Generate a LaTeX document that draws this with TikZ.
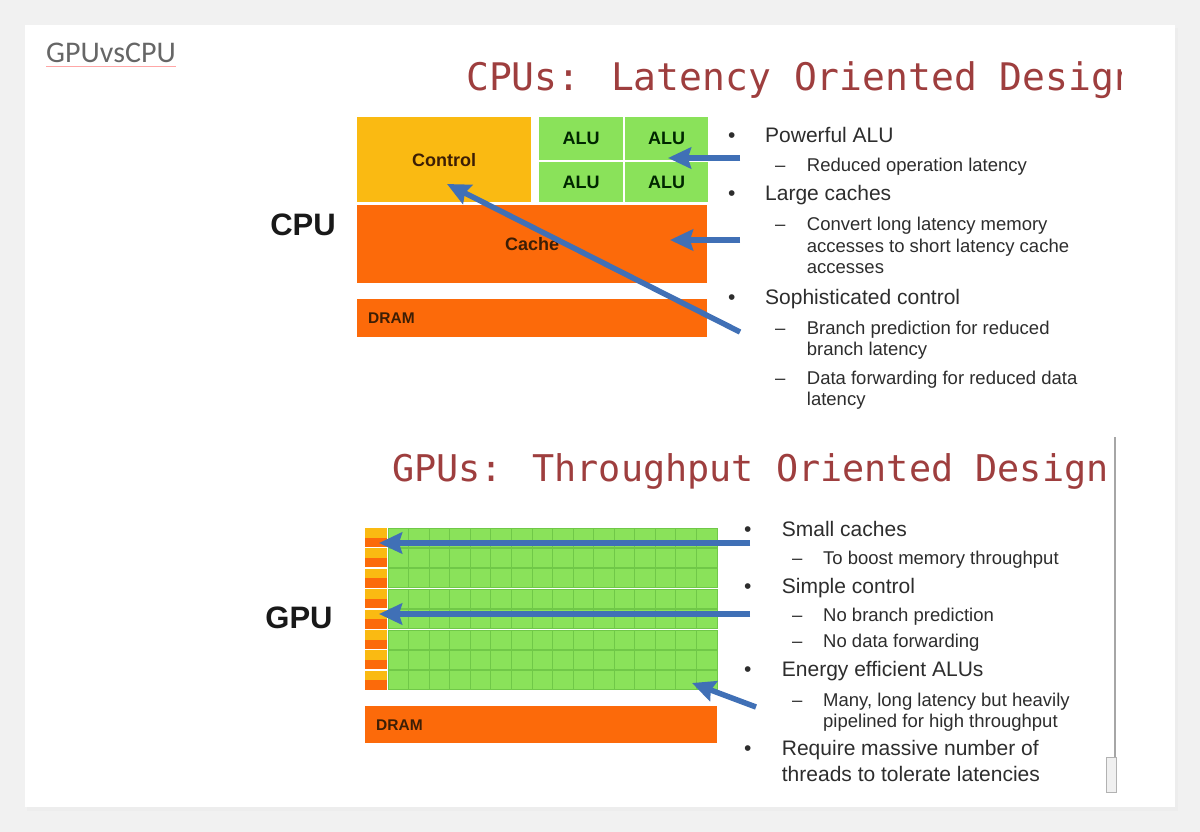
\documentclass[tikz,border=0pt]{standalone}
\usepackage{fontspec}
\setmainfont{Liberation Sans}
\newfontfamily\slidemono{DejaVu Sans Mono}
\newfontfamily\tabfont{Carlito}
\usetikzlibrary{arrows.meta, positioning, calc}

\definecolor{ctrlyellow}{RGB}{250,186,18}
\definecolor{cacheorange}{RGB}{252,106,10}
\definecolor{alugreen}{RGB}{138,226,90}
\definecolor{gridline}{RGB}{112,200,72}
\definecolor{arrowblue}{RGB}{64,112,182}
\definecolor{titlered}{RGB}{158,62,62}
\definecolor{bodytext}{RGB}{45,45,45}
\definecolor{blocktext}{RGB}{60,30,5}
\definecolor{pagegray}{RGB}{241,241,241}

\begin{document}
\begin{tikzpicture}[
  x=1pt, y=-1pt,
  >={Stealth[length=23pt, width=21pt, inset=3pt]},
  block/.style={
    draw=none, inner sep=0pt, anchor=north west,
    font=\fontsize{18}{20}\selectfont\bfseries, text=blocktext
  },
  ctrlbox/.style={block, fill=ctrlyellow},
  alubox/.style={block, fill=alugreen, text=black!85!green},
  cachebox/.style={block, fill=cacheorange},
  dramlabel/.style={inner sep=0pt, anchor=west,
    font=\fontsize{15.5}{17}\selectfont\bfseries, text=blocktext},
  chiplabel/.style={inner sep=0pt,
    font=\fontsize{31}{34}\selectfont\bfseries, text=black!90},
  slidetitle/.style={inner sep=0pt, anchor=base west, text=titlered},
  item/.style={inner sep=0pt, anchor=base west, align=left,
    font=\fontsize{21}{26.7}\selectfont, text=bodytext},
  subitem/.style={inner sep=0pt, anchor=base west, align=left,
    font=\fontsize{18.5}{21.5}\selectfont, text=bodytext},
  pointer/.style={->, draw=arrowblue, line width=5.5pt},
]

%%% Page and card
\useasboundingbox (0,0) rectangle (1200,832);
\fill[pagegray] (0,0) rectangle (1200,832);
\fill[black!7] (27,28) rectangle (1178,811);
\fill[white] (25,25) rectangle (1175,807);

%%% Tab name
\node[inner sep=0pt, anchor=base west, font=\tabfont\fontsize{30}{32}\selectfont,
  text=black!60] (tab) at (46,63) {GPUvsCPU};
\draw[red!35, line width=1.2pt] ([yshift=-3pt]tab.south west) -- ([yshift=-3pt]tab.south east);

%%% Titles
\begin{scope}
  \clip (0,0) rectangle (1121,832);
  \node[slidetitle, font=\slidemono\fontsize{38}{40}\selectfont] (cputitle) at (466,91)
    {CPUs: Latency Oriented Design};
\end{scope}
\node[slidetitle, font=\slidemono\fontsize{36.8}{40}\selectfont] (gputitle) at (392,481)
  {GPUs: Throughput Oriented Design};

%%% CPU block
\node[chiplabel] (cpu) at (303,225) {CPU};
\node[ctrlbox, minimum width=174, minimum height=85] (control) at (357,117) {Control};
\node[alubox, minimum width=84, minimum height=43] (aluA) at (539,117) {ALU};
\node[alubox, minimum width=83, minimum height=43] (aluB) at (625,117) {ALU};
\node[alubox, minimum width=84, minimum height=40] (aluC) at (539,162) {ALU};
\node[alubox, minimum width=83, minimum height=40] (aluD) at (625,162) {ALU};
\node[cachebox, minimum width=350, minimum height=78] (cache) at (357,205) {Cache};
\node[cachebox, minimum width=350, minimum height=38] (cdram) at (357,299) {};
\node[dramlabel, right=11pt of cdram.west] (cdramtxt) {DRAM};

%%% GPU block
\node[chiplabel] (gpu) at (299,618) {GPU};
\foreach \r in {0,...,7} {
  \pgfmathsetmacro{\ytop}{528+\r*20.4}
  \fill[ctrlyellow] (365,\ytop) rectangle ++(22,9.5);
  \fill[cacheorange] (365,\ytop+9.5) rectangle ++(22,9.5);
  \foreach \c in {0,...,15}
    \filldraw[fill=alugreen, draw=gridline, line width=0.8pt]
      (388+\c*20.56,\ytop) rectangle ++(20.56,19);
}
\node[cachebox, minimum width=352, minimum height=37] (gdram) at (365,706) {};
\node[dramlabel, right=11pt of gdram.west] (gdramtxt) {DRAM};

%%% CPU list (multi-line nodes sit on their last baseline)
\foreach \yb [count=\i] in {143,200.7,304}
  \node[item] (cbul\i) at (728,\yb) {\textbullet};
\foreach \yd [count=\i] in {171.7,230.7,334,384}
  \node[subitem] (cdash\i) at (775,\yd) {--};
\node[item] (cpuA) at (765,143) {Powerful ALU};
\node[subitem] (cpuAa) at (806.7,171.7) {Reduced operation latency};
\node[item] (cpuB) at (765,200.7) {Large caches};
\node[subitem] (cpuBa) at (806.7,273.7)
  {Convert long latency memory\\accesses to short latency cache\\accesses};
\node[item] (cpuC) at (765,304) {Sophisticated control};
\node[subitem] (cpuCa) at (806.7,355.5) {Branch prediction for reduced\\branch latency};
\node[subitem] (cpuCb) at (806.7,405.5) {Data forwarding for reduced data\\latency};

%%% GPU list
\foreach \yb [count=\i] in {536.7,593,676.7,755}
  \node[item] (gbul\i) at (744,\yb) {\textbullet};
\foreach \yd [count=\i] in {564,621,647.7,706}
  \node[subitem] (gdash\i) at (792,\yd) {--};
\node[item] (gpuA) at (781.7,536.7) {Small caches};
\node[subitem] (gpuAa) at (823,564) {To boost memory throughput};
\node[item] (gpuB) at (781.7,593) {Simple control};
\node[subitem] (gpuBa) at (823,621) {No branch prediction};
\node[subitem] (gpuBb) at (823,647.7) {No data forwarding};
\node[item] (gpuC) at (781.7,676.7) {Energy efficient ALUs};
\node[subitem] (gpuCa) at (823,727.5) {Many, long latency but heavily\\pipelined for high throughput};
\node[item] (gpuD) at (781.7,781.7) {Require massive number of\\threads to tolerate latencies};

%%% Pointer arrows
\coordinate (fromALU) at (740,158);   \coordinate (toALU) at (668,158);
\coordinate (fromCache) at (740,240); \coordinate (toCache) at (670,240);
\coordinate (fromCtrl) at (740,332);  \coordinate (toCtrl) at (447,184);
\coordinate (fromGcache) at (750,543); \coordinate (toGcache) at (379,543);
\coordinate (fromGctrl) at (750,614);  \coordinate (toGctrl) at (379,614);
\coordinate (fromGalu) at (756,707);   \coordinate (toGalu) at (692,683);
\draw[pointer] (fromALU) -- (toALU);
\draw[pointer] (fromCache) -- (toCache);
\draw[pointer] (fromCtrl) -- (toCtrl);
\draw[pointer] (fromGcache) -- (toGcache);
\draw[pointer] (fromGctrl) -- (toGctrl);
\draw[pointer] (fromGalu) -- (toGalu);

%%% Scroll bar
\draw[black!35, line width=1.2pt] (1115,437) -- (1115,757);
\draw[black!30, fill=black!6, line width=0.8pt] (1106,757) rectangle (1116,792);

\end{tikzpicture}
\end{document}
